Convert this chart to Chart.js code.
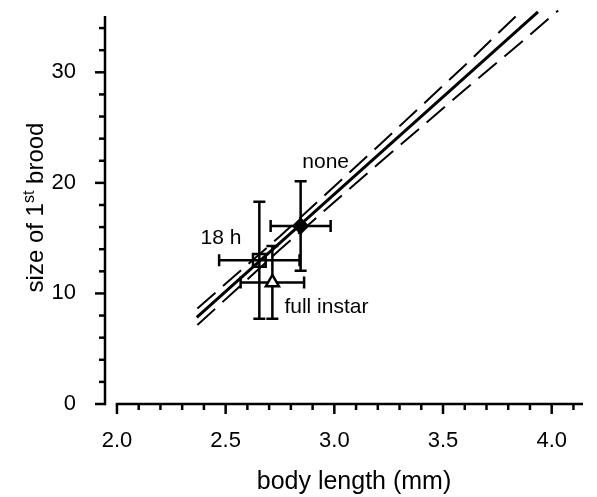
<!DOCTYPE html>
<html><head><meta charset="utf-8">
<script src="https://cdn.jsdelivr.net/npm/chart.js@4.4.0/dist/chart.umd.min.js"></script>
<style>html,body{margin:0;padding:0;background:#fff;}</style>
</head><body>
<canvas id="c" width="597" height="497"></canvas>
<script>
// ---- data ----
const groups = ['none', '18 h', 'full instar'];
const bodyLength = [2.845, 2.655, 2.715];
const bodyLengthErr = [0.138, 0.185, 0.146];
const broodSize = [16.1, 13.0, 11.0];
const broodSizeErr = [4.05, 5.3, 3.3];
const fitX = [2.367, 3.937];
const fitY = [7.84, 35.46];
const upperX = [2.37, 2.75, 3.2, 3.6, 3.855];
const upperY = [8.64, 15.17, 23.29, 30.62, 35.45];
const lowerX = [2.37, 2.75, 3.2, 3.6, 3.86, 4.03];
const lowerY = [7.14, 13.97, 21.69, 28.42, 32.72, 35.6];
const xTicks = [2.0, 2.5, 3.0, 3.5, 4.0];
const yTicks = [0, 10, 20, 30];
const xTitle = 'body length (mm)';
const yTitleParts = ['size of 1', 'st', ' brood'];

const FONT = '"Liberation Sans", Arial, Helvetica, sans-serif';
const pts = (xs, ys) => xs.map((v, i) => ({x: v, y: ys[i]}));

const axesPlugin = {
  id: 'customAxes',
  beforeDatasetsDraw(chart) {
    const {ctx, chartArea, scales: {x, y}} = chart;
    ctx.save();
    ctx.strokeStyle = '#000';
    ctx.lineWidth = 2.5;
    // y axis
    const ax = chartArea.left;
    ctx.beginPath();
    ctx.moveTo(ax, y.getPixelForValue(35.1));
    ctx.lineTo(ax, y.getPixelForValue(0) + 1.2);
    ctx.stroke();
    for (let i = 0; i <= 17; i++) {
      const v = i * 2, p = y.getPixelForValue(v), major = (v % 10 === 0);
      ctx.beginPath(); ctx.moveTo(ax, p); ctx.lineTo(ax - (major ? 10 : 6), p); ctx.stroke();
    }
    // x axis
    const ay = y.getPixelForValue(0);
    ctx.beginPath();
    ctx.moveTo(x.getPixelForValue(2.0) - 1.2, ay);
    ctx.lineTo(chartArea.right, ay);
    ctx.stroke();
    for (let i = 0; i <= 21; i++) {
      const v = 2 + i * 0.1, p = x.getPixelForValue(v), major = (i % 5 === 0);
      ctx.beginPath(); ctx.moveTo(p, ay); ctx.lineTo(p, ay + (major ? 10 : 6)); ctx.stroke();
    }
    // error bars
    ctx.lineWidth = 2.5;
    groups.forEach((g, i) => {
      const cx = x.getPixelForValue(bodyLength[i]), cy = y.getPixelForValue(broodSize[i]);
      const x0 = x.getPixelForValue(bodyLength[i] - bodyLengthErr[i]);
      const x1 = x.getPixelForValue(bodyLength[i] + bodyLengthErr[i]);
      const y0 = y.getPixelForValue(broodSize[i] - broodSizeErr[i]);
      const y1 = y.getPixelForValue(broodSize[i] + broodSizeErr[i]);
      ctx.beginPath();
      ctx.moveTo(x0, cy); ctx.lineTo(x1, cy);
      ctx.moveTo(x0, cy - 6); ctx.lineTo(x0, cy + 6);
      ctx.moveTo(x1, cy - 6); ctx.lineTo(x1, cy + 6);
      ctx.moveTo(cx, y0); ctx.lineTo(cx, y1);
      ctx.moveTo(cx - 6, y0); ctx.lineTo(cx + 6, y0);
      ctx.moveTo(cx - 6, y1); ctx.lineTo(cx + 6, y1);
      ctx.stroke();
    });
    ctx.restore();
  },
  afterDatasetsDraw(chart) {
    const {ctx, scales: {x, y}} = chart;
    ctx.save();
    ctx.fillStyle = '#000';
    ctx.font = '21px ' + FONT;
    ctx.textBaseline = 'middle';
    // "none": above the point's upper error cap
    let px = x.getPixelForValue(bodyLength[0]);
    let py = y.getPixelForValue(broodSize[0] + broodSizeErr[0]);
    ctx.textAlign = 'center';
    ctx.fillText(groups[0], px + 25, py - 19);
    // "18 h": upper-left of the square
    px = x.getPixelForValue(bodyLength[1]);
    py = y.getPixelForValue(broodSize[1]);
    ctx.textAlign = 'right';
    ctx.fillText(groups[1], px - 18, py - 22);
    // "full instar": lower-right of the triangle
    px = x.getPixelForValue(bodyLength[2]);
    py = y.getPixelForValue(broodSize[2]);
    ctx.textAlign = 'left';
    ctx.fillText(groups[2], px + 12, py + 25);
    ctx.restore();
  },
  afterDraw(chart) {
    const {ctx, chartArea} = chart;
    ctx.save();
    ctx.fillStyle = '#000';
    ctx.textBaseline = 'alphabetic';
    // x title
    ctx.font = '25px ' + FONT;
    ctx.textAlign = 'center';
    ctx.fillText(xTitle, 354, 489);
    // y title with superscript
    ctx.textAlign = 'left';
    const big = '24px ' + FONT, small = '16px ' + FONT;
    ctx.font = big; const w0 = ctx.measureText(yTitleParts[0]).width;
    ctx.font = small; const w1 = ctx.measureText(yTitleParts[1]).width;
    ctx.font = big; const w2 = ctx.measureText(yTitleParts[2]).width;
    const total = w0 + w1 + w2;
    ctx.translate(43, 207.5);
    ctx.rotate(-Math.PI / 2);
    let sx = -total / 2;
    ctx.font = big; ctx.fillText(yTitleParts[0], sx, 0); sx += w0;
    ctx.font = small; ctx.fillText(yTitleParts[1], sx, -9); sx += w1;
    ctx.font = big; ctx.fillText(yTitleParts[2], sx, 0);
    ctx.restore();
  }
};

new Chart(document.getElementById('c'), {
  type: 'scatter',
  data: {
    datasets: [
      {
        label: 'groups',
        data: pts(bodyLength, broodSize),
        pointStyle: ['rectRot', 'rect', 'triangle'],
        pointRadius: [7, 9, 7.5],
        backgroundColor: ['#000', 'rgba(255,255,255,0)', '#fff'],
        borderColor: '#000',
        borderWidth: 2.5,
        order: 0
      },
      {
        label: 'fit', data: pts(fitX, fitY), showLine: true, pointRadius: 0,
        borderColor: '#000', borderWidth: 3, order: 1, clip: 8
      },
      {
        label: 'upper 95%', data: pts(upperX, upperY), showLine: true, pointRadius: 0,
        borderColor: '#000', borderWidth: 2, borderDash: [24, 10], order: 1, clip: 8
      },
      {
        label: 'lower 95%', data: pts(lowerX, lowerY), showLine: true, pointRadius: 0,
        borderColor: '#000', borderWidth: 2, borderDash: [24, 10], order: 1, clip: 8
      }
    ]
  },
  options: {
    responsive: false,
    animation: false,
    devicePixelRatio: 1,
    layout: {padding: {top: 9, right: 14, left: 0, bottom: 0}},
    plugins: {legend: {display: false}, tooltip: {enabled: false}},
    scales: {
      x: {
        type: 'linear', min: 1.945, max: 4.144,
        grid: {display: false}, border: {display: false},
        afterBuildTicks(s) { s.ticks = xTicks.map(v => ({value: v})); },
        afterFit(s) { s.height = 93; s.paddingLeft = 0; s.paddingRight = 0; },
        ticks: {
          color: '#000', font: {family: FONT, size: 22}, padding: 16,
          maxRotation: 0, autoSkip: false, callback: v => Number(v).toFixed(1)
        }
      },
      y: {
        type: 'linear', min: 0, max: 35.5,
        grid: {display: false}, border: {display: false},
        afterBuildTicks(s) { s.ticks = yTicks.map(v => ({value: v})); },
        afterFit(s) { s.width = 105; s.paddingTop = 0; s.paddingBottom = 0; },
        ticks: {color: '#000', font: {family: FONT, size: 22}, padding: 21, callback: v => String(v)}
      }
    }
  },
  plugins: [axesPlugin]
});
</script>
</body></html>
